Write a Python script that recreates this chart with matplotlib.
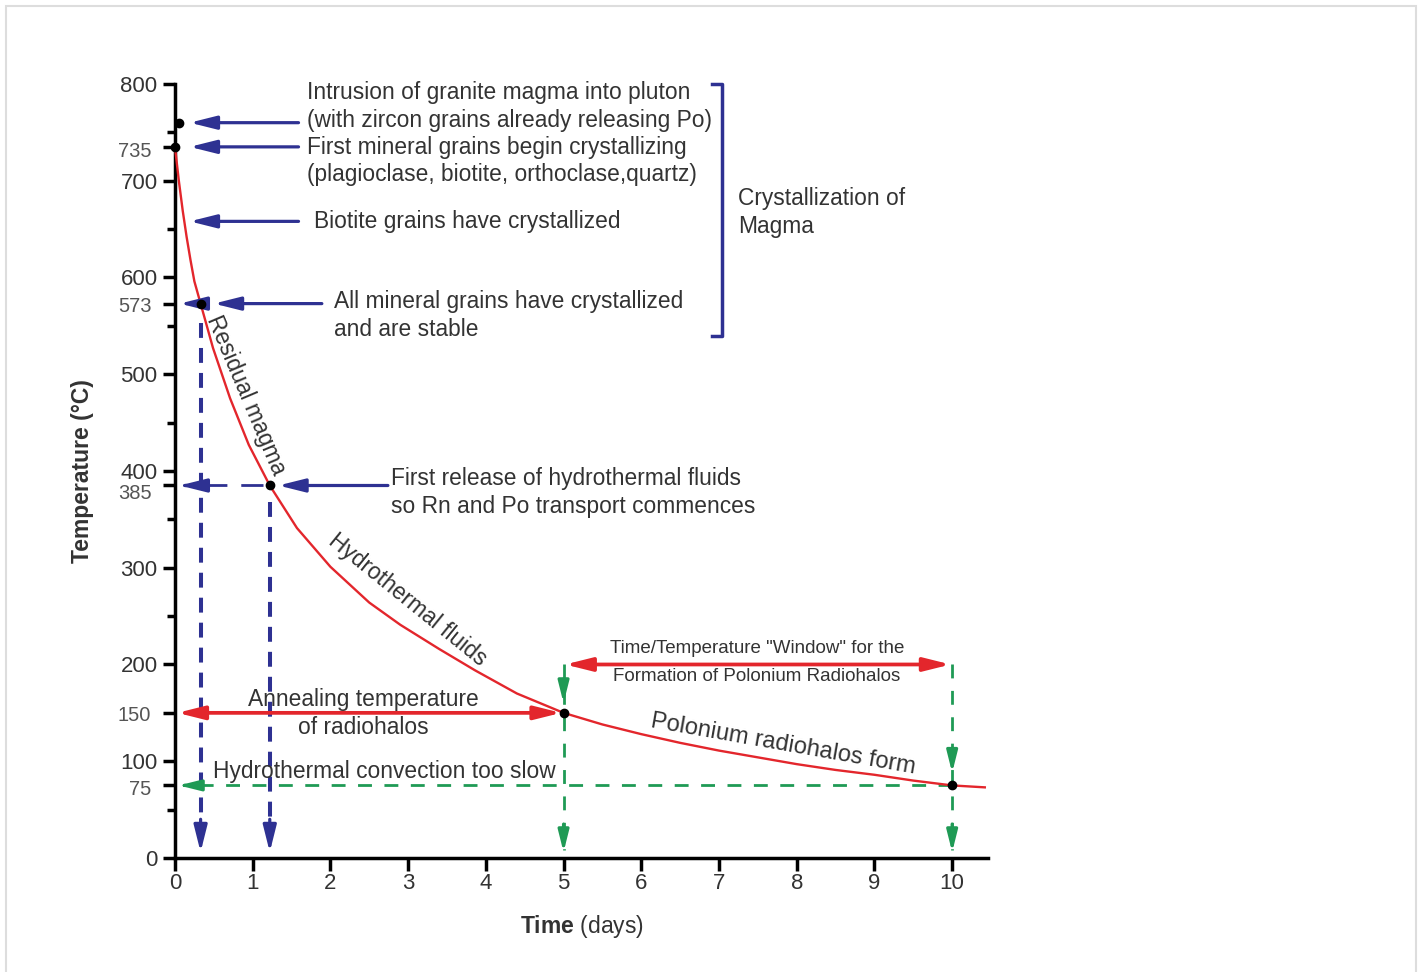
import matplotlib
matplotlib.use('Agg')
import matplotlib.pyplot as plt
from matplotlib.patches import Rectangle

plt.rcParams['font.family'] = ['Liberation Sans', 'DejaVu Sans']
plt.rcParams['mathtext.fontset'] = 'custom'
plt.rcParams['mathtext.rm'] = 'Liberation Sans'
plt.rcParams['mathtext.bf'] = 'Liberation Sans:bold'

# cooling curve
days = [0, 0.05, 0.1, 0.15, 0.2, 0.25, 0.33, 0.49, 0.71, 0.95, 1.22, 1.57, 2.0, 2.5,
        2.9, 3.4, 3.86, 4.4, 5.0, 5.5, 6.0, 6.5, 7.0, 7.5, 8.0, 8.5, 9.0, 9.5, 10.0, 10.42]
temps = [735, 700, 669, 642, 618, 596, 573, 527, 475, 427, 385, 341, 301, 264,
         241, 216, 194, 170, 150, 138, 128, 119, 111, 104, 97, 91, 86, 80, 75, 73]

# marked points
pts_x = [0.05, 0, 0.33, 1.22, 5, 10]
pts_y = [760, 735, 573, 385, 150, 75]

major_y = [0, 100, 200, 300, 400, 500, 600, 700, 800]
special_y = [75, 150, 385, 573, 735]
special_dy = [4, 3, 8, 3, 5]   # label drop below its tick, px
minor_y = [50, 250, 350, 450, 550, 650, 750]
x_ticks = list(range(0, 11))

navy = '#2e3192'
red = '#e3262c'
green = '#1f9a55'
txt = '#333333'

fig = plt.figure(figsize=(14.27, 9.72), dpi=100)
fig.patches.append(Rectangle((6 / 1427, -0.01), 1410 / 1427, 1 - 6 / 972 + 0.01,
                             transform=fig.transFigure, fill=False,
                             edgecolor='#dddddd', lw=1.5))
ax = fig.add_axes([0.1226, 0.1173, 0.5697, 0.7963])
ax.set_xlim(0, 10.46)
ax.set_ylim(0, 800)

for s in ['top', 'right']:
    ax.spines[s].set_visible(False)
for s in ['left', 'bottom']:
    ax.spines[s].set_linewidth(2.5)

yt = sorted(major_y + special_y)
ax.set_yticks(yt, [str(v) if v in major_y else '' for v in yt])
ax.set_yticks(minor_y, minor=True)
ax.set_xticks(x_ticks, [str(v) for v in x_ticks])
ax.tick_params(axis='both', which='major', direction='out', length=9, width=2.5,
               labelsize=16, labelcolor=txt)
ax.tick_params(axis='x', pad=2)
ax.tick_params(axis='y', which='minor', direction='out', length=6, width=2.5)
for v, dy in zip(special_y, special_dy):
    ax.annotate(str(v), xy=(0, v), xytext=(-17, -dy * 0.72), textcoords='offset points',
                ha='right', va='center', fontsize=14.5, color='#555555',
                annotation_clip=False)

ax.set_ylabel('Temperature (°C)', fontsize=16.5, fontweight='bold', color=txt)
ax.yaxis.set_label_coords(-0.099, 0.50)
ax.set_xlabel(r'$\bf{Time}$ (days)', fontsize=16.5, color=txt)
ax.xaxis.set_label_coords(0.5, -0.071)

# curve and points
ax.plot(days, temps, color=red, lw=1.7, clip_on=False, zorder=3,
        solid_joinstyle='round')
ax.plot(pts_x, pts_y, 'o', color='black', ms=6, zorder=5, clip_on=False)


def arrow(x0, y0, x1, y1, color, lw=2.3, ms=20, style='-|>,head_length=0.8,head_width=0.2'):
    ax.annotate('', xy=(x1, y1), xytext=(x0, y0), annotation_clip=False,
                arrowprops=dict(arrowstyle=style, color=color, lw=lw, mutation_scale=ms,
                                shrinkA=0, shrinkB=0), zorder=4)


# blue label arrows
arrow(1.59, 760, 0.19, 760, navy)
arrow(1.59, 735, 0.19, 735, navy)
arrow(1.59, 658, 0.19, 658, navy)
arrow(1.89, 573, 0.50, 573, navy)
arrow(2.74, 385, 1.33, 385, navy)
arrow(0.30, 573, 0.06, 573, navy)

# blue dashed guides
ax.plot([0.33, 0.33], [553, 35], color=navy, lw=2.9, ls=(0, (3.7, 2.5)))
ax.plot([1.22, 1.22], [368, 35], color=navy, lw=2.9, ls=(0, (3.7, 2.5)))
ax.plot([1.13, 0.25], [385, 385], color=navy, lw=2, ls=(0, (8, 5)))
arrow(0.33, 40, 0.33, 6, navy)
arrow(1.22, 40, 1.22, 6, navy)
arrow(0.16, 385, 0.06, 385, navy)

# green dashed guides
ax.plot([10, 0.15], [75, 75], color=green, lw=2, ls=(0, (5, 4.5)))
arrow(0.16, 75, 0.05, 75, green, ms=16)
ax.plot([5, 5], [200, 8], color=green, lw=2, ls=(0, (5, 4.5)))
ax.plot([10, 10], [200, 8], color=green, lw=2, ls=(0, (5, 4.5)))
for xv, ya in [(5, 160), (10, 88)]:
    arrow(xv, ya + 25, xv, ya, green, ms=16)
    arrow(xv, 35, xv, 6, green, ms=16)

# red double arrows
arrow(0.03, 150, 4.97, 150, red, lw=2.7, style='<|-|>,head_length=0.8,head_width=0.2')
arrow(5.02, 200, 9.98, 200, red, lw=2.7, style='<|-|>,head_length=0.8,head_width=0.2')

# bracket
ax.plot([6.91, 7.04, 7.04, 6.91], [800, 800, 539, 539], color=navy, lw=2.5,
        clip_on=False)

fs = 16.4
tkw = dict(fontsize=fs, color=txt, va='center')
ax.text(1.70, 791, 'Intrusion of granite magma into pluton', **tkw)
ax.text(1.70, 762, '(with zircon grains already releasing Po)', **tkw)
ax.text(1.70, 734, 'First mineral grains begin crystallizing', **tkw)
ax.text(1.70, 706, '(plagioclase, biotite, orthoclase,quartz)', **tkw)
ax.text(1.79, 658, 'Biotite grains have crystallized', **tkw)
ax.text(2.05, 575, 'All mineral grains have crystallized', **tkw)
ax.text(2.05, 546, 'and are stable', **tkw)
ax.text(2.78, 392, 'First release of hydrothermal fluids', **tkw)
ax.text(2.78, 363, 'so Rn and Po transport commences', **tkw)
ax.text(7.25, 682, 'Crystallization of', **tkw)
ax.text(7.25, 653, 'Magma', **tkw)
ax.text(2.43, 164, 'Annealing temperature', ha='center', **tkw)
ax.text(2.43, 135, 'of radiohalos', ha='center', **tkw)
ax.text(0.49, 89, 'Hydrothermal convection too slow', **tkw)

nkw = dict(fontsize=13.5, color=txt, va='center', ha='center')
ax.text(7.49, 217, 'Time/Temperature "Window" for the', **nkw)
ax.text(7.49, 188, 'Formation of Polonium Radiohalos', **nkw)

ax.text(0.92, 478, 'Residual magma', rotation=-67, ha='center', va='center',
        fontsize=fs, color=txt, rotation_mode='anchor')
ax.text(2.99, 267, 'Hydrothermal fluids', rotation=-39, ha='center', va='center',
        fontsize=fs, color=txt, rotation_mode='anchor')
ax.text(7.82, 117, 'Polonium radiohalos form', rotation=-10, ha='center', va='center',
        fontsize=fs + 0.6, color=txt, rotation_mode='anchor')

fig.savefig('out.png', dpi=100)
